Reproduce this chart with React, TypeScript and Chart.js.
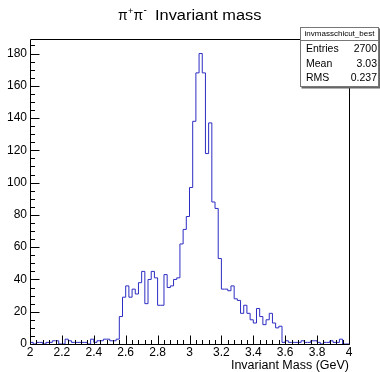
import React, { useEffect, useRef } from "react";
import { Chart, registerables } from "chart.js";

Chart.register(...registerables);

// ---- data ----
const xMin = 2;
const xMax = 4;
const binWidth = 0.02;
const yMax = 189;
const counts: number[] = [
  1, 0, 1, 1, 0, 1, 1, 2, 2, 0, 0, 3, 2, 1, 1, 1, 1, 1, 0, 3, 1, 2, 2, 3, 3, 2, 2, 3,
  17, 29, 36, 29, 34, 31, 38, 45, 25, 40, 45, 41, 24, 24, 43, 35, 36, 40, 41, 62, 71, 79,
  97, 138, 168, 180, 168, 118, 137, 88, 84, 53, 34, 34, 33, 36, 28, 27, 19, 24,
  19, 15, 13, 22, 17, 12, 15, 19, 13, 10, 11,
  1, 2, 1, 1, 1, 1, 2, 1, 1, 2, 2, 1, 0, 1, 1, 2, 1, 1, 3, 0, 0,
];
const xTickStep = 0.2;
const xMinorPerMajor = 5;
const yTickStep = 20;
const yMinorPerMajor = 4;
const titleParts = ["π", "+", "π", "-", "Invariant mass"];
const xAxisTitle = "Invariant Mass (GeV)";
const statsName = "invmasschicut_best";
const statsLabels = ["Entries", "Mean", "RMS"];
const statsValues = ["2700", "3.03", "0.237"];

const FONT = '"Liberation Sans", Arial, Helvetica, sans-serif';
const LINE_COLOR = "rgb(45,45,195)";

const rootPlugin = {
  id: "rootDecor",
  afterDatasetsDraw(chart: any) {
    const { ctx, chartArea: a, scales } = chart;
    const xs = scales.x;
    const ys = scales.y;
    ctx.save();
    ctx.strokeStyle = "#000";
    ctx.lineWidth = 1;
    const L = Math.round(a.left) + 0.5;
    const R = Math.round(a.right) + 0.5;
    const T = Math.round(a.top) + 0.5;
    const B = Math.round(a.bottom) + 0.5;
    ctx.beginPath();
    ctx.rect(L, T, R - L, B - T);
    ctx.stroke();
    const xMinor = xTickStep / xMinorPerMajor;
    const nx = Math.round((xMax - xMin) / xMinor);
    ctx.beginPath();
    for (let i = 0; i <= nx; i++) {
      const v = xMin + i * xMinor;
      const px = Math.round(xs.getPixelForValue(v)) + 0.5;
      const len = i % xMinorPerMajor === 0 ? 9 : 4.5;
      ctx.moveTo(px, B);
      ctx.lineTo(px, B - len);
    }
    const yMinor = yTickStep / yMinorPerMajor;
    const ny = Math.floor(yMax / yMinor);
    for (let i = 0; i <= ny; i++) {
      const v = i * yMinor;
      const py = Math.round(ys.getPixelForValue(v)) + 0.5;
      const len = i % yMinorPerMajor === 0 ? 9 : 4.5;
      ctx.moveTo(L, py);
      ctx.lineTo(L + len, py);
    }
    ctx.stroke();
    ctx.restore();
  },
  afterDraw(chart: any) {
    const { ctx } = chart;
    ctx.save();
    ctx.fillStyle = "#000";
    ctx.textBaseline = "alphabetic";
    ctx.textAlign = "left";
    // title: pi+ pi- with superscripts
    let tx = 118;
    const big = `14px ${FONT}`;
    const sup = `9px ${FONT}`;
    ctx.font = big;
    ctx.fillText(titleParts[0], tx, 20);
    tx += ctx.measureText(titleParts[0]).width + 0.3;
    ctx.font = sup;
    ctx.fillText(titleParts[1], tx, 14);
    tx += ctx.measureText(titleParts[1]).width + 0.3;
    ctx.font = big;
    ctx.fillText(titleParts[2], tx, 20);
    tx += ctx.measureText(titleParts[2]).width + 0.3;
    ctx.font = `10px ${FONT}`;
    ctx.fillText(titleParts[3], tx, 13);
    ctx.font = big;
    const w = ctx.measureText(titleParts[4]).width;
    ctx.save();
    ctx.translate(155, 20);
    ctx.scale(106.5 / w, 1);
    ctx.fillText(titleParts[4], 0, 0);
    ctx.restore();

    // stats box
    const bx = 300.5, by = 27.5, bw = 78, bh = 59;
    ctx.fillStyle = "#666";
    ctx.fillRect(bx + 1, by + 1, bw + 1, bh + 1);
    ctx.fillStyle = "#fff";
    ctx.fillRect(bx, by, bw, bh);
    ctx.strokeStyle = "#777";
    ctx.lineWidth = 1;
    ctx.strokeRect(bx, by, bw, bh);
    ctx.beginPath();
    ctx.moveTo(bx, 40.5);
    ctx.lineTo(bx + bw, 40.5);
    ctx.stroke();
    ctx.fillStyle = "#000";
    ctx.textBaseline = "middle";
    ctx.font = `8px ${FONT}`;
    ctx.textAlign = "center";
    ctx.fillText(statsName, bx + bw / 2, 34);
    ctx.font = `10.5px ${FONT}`;
    const rowsY = [49, 64, 78.5];
    for (let i = 0; i < statsLabels.length; i++) {
      ctx.textAlign = "left";
      ctx.fillText(statsLabels[i], 306, rowsY[i]);
      ctx.textAlign = "right";
      ctx.fillText(statsValues[i], 377, rowsY[i]);
    }
    ctx.restore();
  },
};

export default function App() {
  const ref = useRef<HTMLCanvasElement | null>(null);
  useEffect(() => {
    if (!ref.current) return;
    const points = counts.map((c, i) => ({ x: xMin + i * binWidth, y: c }));
    points.push({ x: xMax, y: counts[counts.length - 1] });
    const chart = new Chart(ref.current, {
      type: "line",
      data: {
        datasets: [
          {
            data: points,
            stepped: true,
            borderColor: LINE_COLOR,
            borderWidth: 1,
            pointRadius: 0,
            fill: false,
          },
        ],
      },
      options: {
        animation: false,
        responsive: false,
        events: [],
        layout: { padding: { left: 0, right: 31, top: 39, bottom: 0 } },
        plugins: { legend: { display: false }, tooltip: { enabled: false }, title: { display: false } },
        scales: {
          x: {
            type: "linear",
            min: xMin,
            max: xMax,
            grid: { display: false, drawTicks: false },
            border: { display: false },
            ticks: {
              stepSize: xTickStep,
              includeBounds: false,
              autoSkip: false,
              maxRotation: 0,
              padding: 1,
              color: "#000",
              font: { family: FONT, size: 12 },
              callback: (v: any) => String(parseFloat(Number(v).toFixed(2))),
            },
            title: {
              display: true,
              text: xAxisTitle,
              align: "end",
              color: "#000",
              padding: 0,
              font: { family: FONT, size: 12.5, lineHeight: 1 },
            },
            afterFit: (s: any) => {
              s.height = 28;
            },
          },
          y: {
            type: "linear",
            min: 0,
            max: yMax,
            grid: { display: false, drawTicks: false },
            border: { display: false },
            ticks: {
              stepSize: yTickStep,
              includeBounds: false,
              padding: 3,
              color: "#000",
              font: { family: FONT, size: 12 },
            },
            afterFit: (s: any) => {
              s.width = 30;
            },
          },
        },
      },
      plugins: [rootPlugin],
    } as any);
    return () => chart.destroy();
  }, []);
  return (
    <div style={{ position: "fixed", left: 0, top: 0, width: 380, height: 372, background: "#fff" }}>
      <canvas ref={ref} width={380} height={372} style={{ display: "block" }} />
    </div>
  );
}
